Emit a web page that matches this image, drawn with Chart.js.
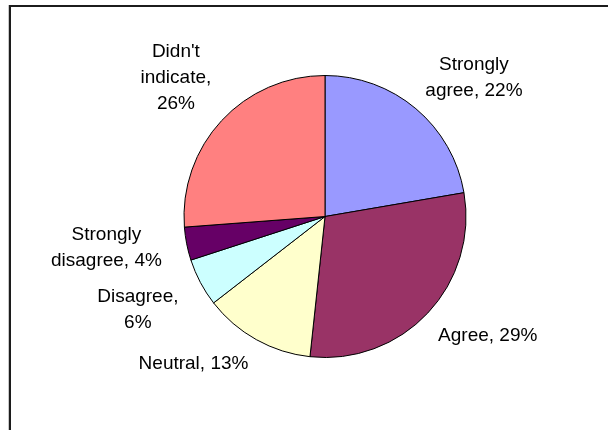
<!DOCTYPE html>
<html>
<head>
<meta charset="utf-8">
<script src="https://cdn.jsdelivr.net/npm/chart.js@4"></script>
<style>
  html, body { margin: 0; padding: 0; background: #fff; }
  #chart { display: block; }
</style>
</head>
<body>
<canvas id="chart" width="608" height="430"></canvas>
<script>
'use strict';

var categories = ['Strongly agree', 'Agree', 'Neutral', 'Disagree', 'Strongly disagree', "Didn't indicate"];
var values     = [22.3, 29.4, 12.8, 5.5, 3.8, 26.2];
var colors     = ['#9999FF', '#993366', '#FFFFCC', '#CCFFFF', '#660066', '#FF8080'];
// how Excel wrapped each data label, '#' is replaced by the percentage
var labelLines = [
    ['Strongly', 'agree, #'],
    ['Agree, #'],
    ['Neutral, #'],
    ['Disagree,', '#'],
    ['Strongly', 'disagree, #'],
    ["Didn't", 'indicate,', '#']
];

var labelFont  = '19px "Liberation Sans", Arial, sans-serif';
var lineHeight = 26;

// white page with the frame in the top-left corner
var framePlugin = {
    id: 'frame',
    beforeDraw: function (chart) {
        var ctx = chart.ctx;
        ctx.save();
        ctx.fillStyle = '#fff';
        ctx.fillRect(0, 0, chart.width, chart.height);
        ctx.fillStyle = '#c8c8c8';
        ctx.fillRect(8, 5, 1, chart.height);
        ctx.fillStyle = '#1c1c1c';
        ctx.fillRect(9, 5, chart.width, 2);
        ctx.fillRect(9, 5, 2, chart.height);
        ctx.restore();
    }
};

// outside-end labels, placed roughly the way Excel does it
var outsideLabels = {
    id: 'outsideLabels',
    afterDatasetsDraw: function (chart) {
        var ctx = chart.ctx;
        var arcs = chart.getDatasetMeta(0).data;
        var total = values.reduce(function (a, b) { return a + b; }, 0);
        ctx.save();
        ctx.font = labelFont;
        ctx.fillStyle = '#000';
        ctx.textAlign = 'center';
        ctx.textBaseline = 'middle';
        arcs.forEach(function (arc, i) {
            var p = arc.getProps(['x', 'y', 'startAngle', 'endAngle', 'outerRadius'], true);
            var mid = (p.startAngle + p.endAngle) / 2;
            var dx = Math.cos(mid), dy = Math.sin(mid);
            var r = p.outerRadius + 10;
            var ax = p.x + r * dx, ay = p.y + r * dy;
            // near-horizontal labels sit a bit further out
            ax += Math.sign(dx) * 12 * Math.max(0, Math.min(1, (Math.abs(dx) - 0.8) / 0.1));
            var pct = Math.round(values[i] / total * 100) + '%';
            var lines = labelLines[i].map(function (s) { return s.replace('#', pct); });
            var w = 0;
            lines.forEach(function (s) { w = Math.max(w, ctx.measureText(s).width); });
            w += 6;
            var h = lines.length * lineHeight;
            var fx = Math.sign(dx) * Math.min(1, Math.abs(dx) / 0.3);
            var fy = Math.sign(dy) * Math.max(0, Math.min(1, (Math.abs(dy) - 0.2) / 0.35));
            var cx = ax + fx * w / 2;
            var cy = ay + fy * h / 2 + 2.5;
            lines.forEach(function (s, k) {
                ctx.fillText(s, cx, cy - h / 2 + lineHeight * (k + 0.5));
            });
        });
        ctx.restore();
    }
};

new Chart(document.getElementById('chart'), {
    type: 'pie',
    data: {
        labels: categories,
        datasets: [{
            data: values,
            backgroundColor: colors,
            borderColor: '#000',
            borderWidth: 1
        }]
    },
    options: {
        responsive: false,
        animation: false,
        layout: { padding: { top: 75, bottom: 72, left: 42, right: 0 } },
        plugins: {
            legend: { display: false },
            tooltip: { enabled: false }
        }
    },
    plugins: [framePlugin, outsideLabels]
});
</script>
</body>
</html>
